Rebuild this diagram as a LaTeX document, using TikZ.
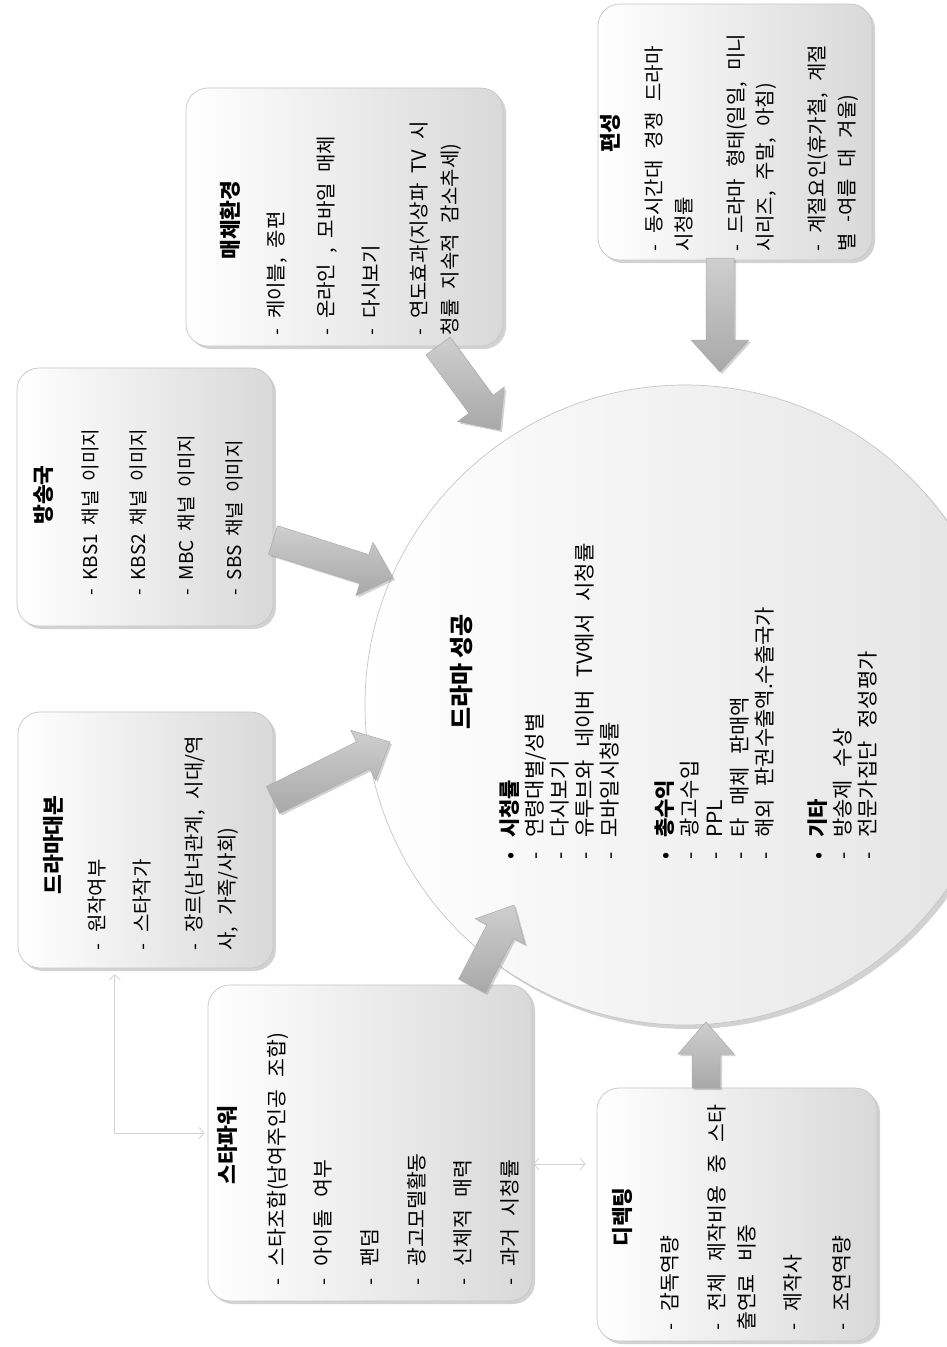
\documentclass[tikz,border=0pt]{standalone}
\usepackage{fontspec}
\setmainfont{Noto Sans CJK KR}
\usetikzlibrary{calc,shadows,arrows.meta,shapes.geometric}
\newcommand{\bodyfnt}[3]{\fontsize{#1pt}{#2pt}\selectfont\spaceskip=#3em\relax}
\newcommand{\ttlfnt}{\fontsize{21.5pt}{26pt}\selectfont\bfseries}
\newcommand{\mk}[1]{\makebox[22pt][l]{#1}}
\newcommand{\blockarrow}[5]{%
  \coordinate (#2b) at ($(#2)!#5!(#1)$);
  \path[bigarrow] ($(#1)!#3!90:(#2)$) -- ($(#2b)!#3!90:(#2)$) -- ($(#2b)!#4!90:(#2)$) -- (#2)
    -- ($(#2b)!#4!-90:(#2)$) -- ($(#2b)!#3!-90:(#2)$) -- ($(#1)!#3!-90:(#2)$) -- cycle;}
\begin{document}
\begin{tikzpicture}[x=1pt,y=-1pt,
  box/.style={rounded corners=22pt, draw=gray!45, line width=0.7pt, left color=white, right color=gray!30,
    drop shadow={opacity=0.35, shadow xshift=3pt, shadow yshift=-3pt}, inner sep=0pt},
  succstyle/.style={circle, minimum size=640pt, inner sep=0pt, draw=gray!45, line width=0.7pt,
    left color=white, right color=gray!22, drop shadow={opacity=0.35, shadow xshift=4pt, shadow yshift=-4pt}},
  bigarrow/.style={top color=gray!38, bottom color=gray!68, draw=gray!65, line width=0.5pt,
    drop shadow={opacity=0.35, shadow xshift=2pt, shadow yshift=-2pt}},
  ttl/.style={rotate=90, inner sep=0pt, font=\ttlfnt},
  body/.style={rotate=90, anchor=north west, inner sep=0pt, align=left},
  thinarr/.style={draw=gray!35, line width=0.8pt, {Straight Barb[length=5pt,width=11pt]}-{Straight Barb[length=5pt,width=11pt]}}
]
\useasboundingbox (0,0) rectangle (947,1347);
\clip (0,0) rectangle (947,1347);
\fill[white] (0,0) rectangle (947,1347);

% central circle
\node[succstyle] (succ) at (685,705) {};

% boxes
\node[box, minimum width=274pt, minimum height=256pt] (pyeon) at (735,132) {};
\node[box, minimum width=317pt, minimum height=258pt] (mae) at (344.5,217) {};
\node[box, minimum width=256pt, minimum height=258pt] (bang) at (145,497) {};
\node[box, minimum width=255pt, minimum height=256pt] (drama) at (145.5,840) {};
\node[box, minimum width=324pt, minimum height=316pt] (star) at (370,1143) {};
\node[box, minimum width=280pt, minimum height=253pt] (direct) at (737,1214.5) {};

% block arrows
\coordinate (a1s) at (720,258);  \coordinate (a1e) at (720,372);
\coordinate (a2s) at (438,346);  \coordinate (a2e) at (500,430);
\coordinate (a3s) at (273,540);  \coordinate (a3e) at (393,578);
\coordinate (a4s) at (273,800);  \coordinate (a4e) at (390,742);
\coordinate (a5s) at (472,986);  \coordinate (a5e) at (514,905);
\coordinate (a6s) at (706,1088); \coordinate (a6e) at (706,1022);
\blockarrow{a1s}{a1e}{14pt}{29pt}{32pt}
\blockarrow{a2s}{a2e}{15pt}{29pt}{32pt}
\blockarrow{a3s}{a3e}{15pt}{28pt}{30pt}
\blockarrow{a4s}{a4e}{15pt}{28pt}{30pt}
\blockarrow{a5s}{a5e}{15pt}{28pt}{30pt}
\blockarrow{a6s}{a6e}{14pt}{28pt}{32pt}

% titles
\node[ttl] (t1) at (610,133) {편성};
\node[ttl] (t2) at (230,220) {매체환경};
\node[ttl] (t3) at (43,495) {방송국};
\node[ttl] (t4) at (53,845) {드라마대본};
\node[ttl] (t5) at (227,1145) {스타파워};
\node[ttl] (t6) at (622,1217) {디렉팅};

% bodies
\node[body, font={\bodyfnt{20}{29.5}{0.55}}] (b1) at (645,252) {- 동시간대 경쟁 드라마\\시청률\\[22.5pt]- 드라마 형태(일일, 미니\\시리즈, 주말, 아침)\\[22.5pt]- 계절요인(휴가철, 계절\\별 -여름 대 겨울)};
\node[body, font={\bodyfnt{20}{31}{0.5}}] (b2) at (267,336) {- 케이블, 종편\\[19pt]- 온라인 , 모바일 매체\\[14pt]- 다시보기\\[17pt]- 연도효과(지상파 TV 시\\청률 지속적 감소추세)};
\node[body, font={\bodyfnt{19}{48}{0.47}}] (b3) at (82,596) {- KBS1 채널 이미지\\- KBS2 채널 이미지\\- MBC 채널 이미지\\- SBS 채널 이미지};
\node[body, font={\bodyfnt{20}{33}{0.55}}] (b4) at (88,951) {- 원작여부\\[12pt]- 스타작가\\[19pt]- 장르(남녀관계, 시대/역\\사, 가족/사회)};
\node[body, font={\bodyfnt{20.5}{46.6}{0.6}}] (b5) at (267,1286) {- 스타조합(남여주인공 조합)\\- 아이돌 여부\\- 팬덤\\- 광고모델활동\\- 신체적 매력\\- 과거 시청률};
\node[body, font={\bodyfnt{20.5}{30}{0.6}}] (b6) at (660,1331) {- 감독역량\\[17pt]- 전체 제작비용 중 스타\\출연료 비중\\[16pt]- 제작사\\[19pt]- 조연역량};

% circle texts
\node[rotate=90, inner sep=0pt, font={\fontsize{24pt}{28pt}\selectfont\bfseries}] (ctitle) at (462,672) {드라마 성공};
\node[body, font={\bodyfnt{21}{25}{0.6}}] (clist) at (500,860) {%
\mk{•}\textbf{시청률}\\
\mk{-}연령대별/성별\\
\mk{-}다시보기\\
\mk{-}유투브와 네이버 TV에서 시청률\\
\mk{-}모바일시청률\\[30pt]
\mk{•}\textbf{총수익}\\
\mk{-}광고수입\\
\mk{-}PPL\\
\mk{-}타 매체 판매액\\
\mk{-}해외 판권수출액.수출국가\\[28pt]
\mk{•}\textbf{기타}\\
\mk{-}방송제 수상\\
\mk{-}전문가집단 정성평가};

% thin connectors
\draw[thinarr] ($(drama.south west)+(97,6)$) |- ($(star.west)+(-3,-10)$);
\draw[thinarr] ($(star.east)+(1,21)$) -- ($(direct.west |- star.east)+(-11,21)$);
\end{tikzpicture}
\end{document}
